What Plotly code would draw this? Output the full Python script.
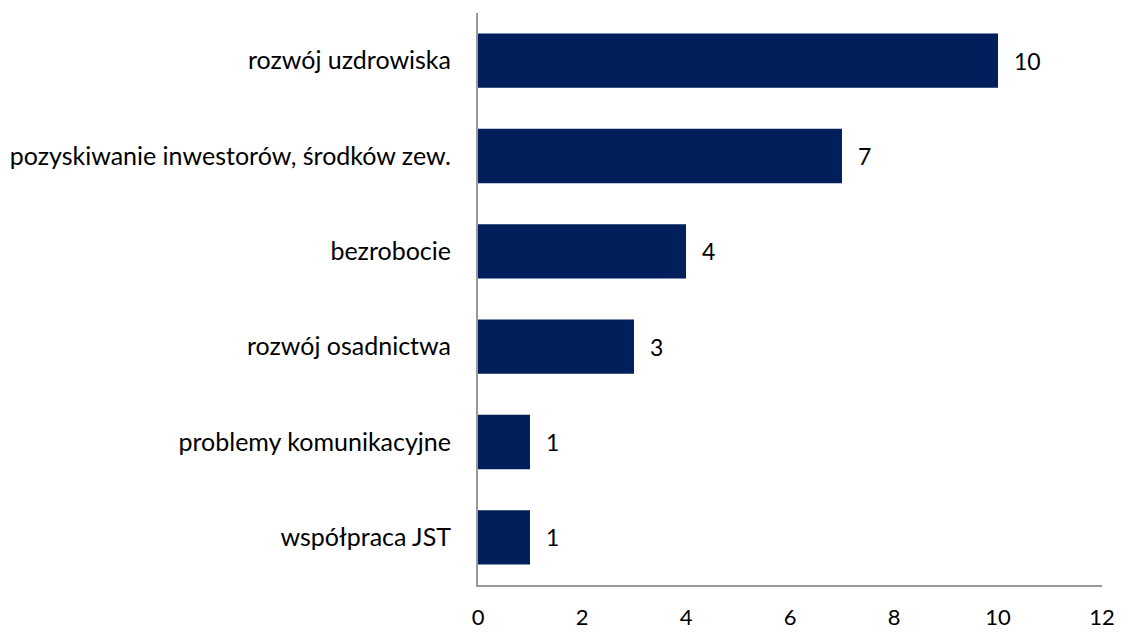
import plotly.graph_objects as go

categories = ["rozwój uzdrowiska", "pozyskiwanie inwestorów, środków zew.", "bezrobocie",
              "rozwój osadnictwa", "problemy komunikacyjne", "współpraca JST"]
values = [10, 7, 4, 3, 1, 1]
tick_vals = [0, 2, 4, 6, 8, 10, 12]

FONT = "Lato"
FS = 25
fig = go.Figure(go.Bar(
    y=categories, x=values, orientation="h",
    marker=dict(color="#001F5B", line=dict(width=0)),
    hoverinfo="x+y",
))
for c, v in zip(categories, values):
    fig.add_annotation(x=v, y=c, text=str(v), showarrow=False, xanchor="left",
                       xshift=14, font=dict(family=FONT, size=23, color="#000"))

fig.update_layout(
    width=1121, height=633, paper_bgcolor="white", plot_bgcolor="white",
    margin=dict(l=478, r=19, t=13, b=48),
    bargap=0.43, showlegend=False,
    font=dict(family=FONT, size=FS, color="#000"),
)
fig.update_xaxes(range=[0, 12], tickvals=tick_vals, showgrid=False, zeroline=False,
                 showline=True, linecolor="#999999", linewidth=2, ticks="",
                 ticklabelstandoff=12, automargin=False, tickfont=dict(family=FONT, size=22))
fig.update_yaxes(categoryorder="array", categoryarray=categories[::-1], autorange=True,
                 showgrid=False, showline=True, linecolor="#999999", linewidth=2,
                 ticks="", ticklabelstandoff=20, automargin=False,
                 tickfont=dict(family=FONT, size=FS))
fig.write_html("out.html", config={"displayModeBar": False},
               post_script="document.body.style.margin='0';")
